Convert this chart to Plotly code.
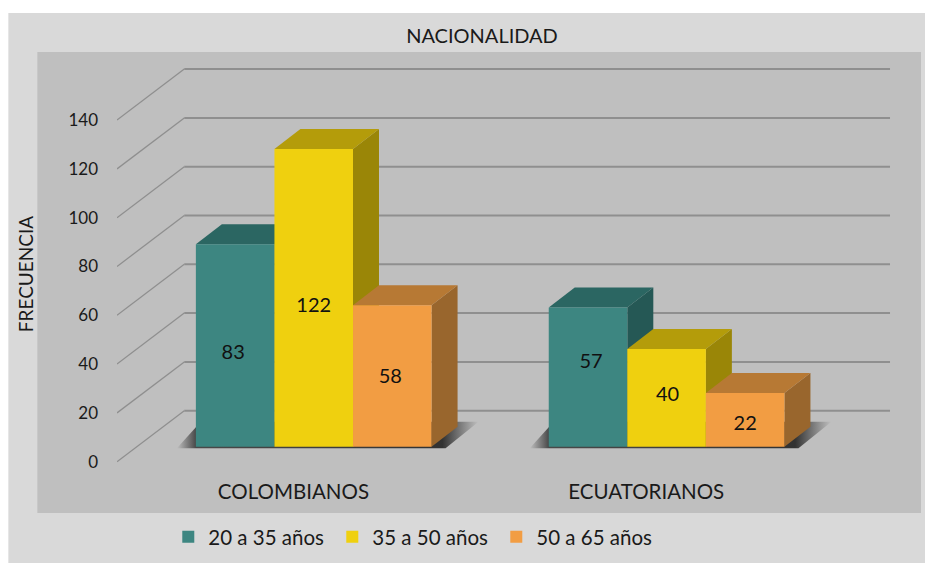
import plotly.graph_objects as go

# ---------- data ----------
categories = ["COLOMBIANOS", "ECUATORIANOS"]
series_names = ["20 a 35 años", "35 a 50 años", "50 a 65 años"]
values_20_35 = [83, 57]
values_35_50 = [122, 40]
values_50_65 = [58, 22]
y_ticks = [0, 20, 40, 60, 80, 100, 120, 140]

# ---------- style / projection constants ----------
W, H = 925, 563
FONT = "Lato"
TXT = "#1a1a1a"
FRONT = ["#3d8681", "#efd00f", "#f29d43"]
TOP = ["#2b6662", "#b49c0a", "#b77934"]
SIDE = ["#255855", "#9a8607", "#99662d"]
PLOT_L, PLOT_R, PLOT_T, PLOT_B = 116.7, 921.0, 52.0, 496.0
ZERO_PX = 461.7        # pixel row of value 0 on the front axis
PX_Y = 2.44            # pixels per value unit
PX_X = 353.0           # pixels per category
BAR_PX = 78.6
to_x = lambda px: px / PX_X
to_y = lambda px: px / PX_Y
WALL_DX, WALL_DY = to_x(67.3), to_y(51.0)      # front axis -> back wall
BASE_DX, BASE_DY = to_x(20.3), to_y(15.0)      # front axis -> bar base
DEPTH_DX, DEPTH_DY = to_x(26.0), to_y(20.0)    # depth of one bar
BAR_W = to_x(BAR_PX)
# hand placement of the value labels in the reference (pixels: right, up)
LABEL_NUDGE = [[(-2, -9), (3, 14)], [(0, -9), (1, 2)], [(-2, -2), (0, -5)]]

series = [values_20_35, values_35_50, values_50_65]
x_range = [0, (PLOT_R - PLOT_L) / PX_X]
y_range = [(ZERO_PX - PLOT_B) / PX_Y, (ZERO_PX - PLOT_T) / PX_Y]
fx = lambda px: (px - PLOT_L) / (PLOT_R - PLOT_L)
fy = lambda py: (PLOT_B - py) / (PLOT_B - PLOT_T)

fig = go.Figure()

# back-wall gridlines and their diagonal returns to the axis
diag_x, diag_y, wall_x, wall_y = [], [], [], []
for v in y_ticks:
    diag_x += [0, WALL_DX, None]
    diag_y += [v, v + WALL_DY, None]
    wall_x += [WALL_DX, 2 + WALL_DX, None]
    wall_y += [v + WALL_DY, v + WALL_DY, None]
fig.add_trace(go.Scatter(x=diag_x, y=diag_y, mode="lines", showlegend=False, hoverinfo="skip",
                         line=dict(color="#8f8f8f", width=1.3)))
fig.add_trace(go.Scatter(x=wall_x, y=wall_y, mode="lines", showlegend=False, hoverinfo="skip",
                         line=dict(color="#8f8f8f", width=2)))

# floor shadows
for c in range(len(categories)):
    left = c + 0.5 + BASE_DX - 1.5 * BAR_W
    right = left + 3 * BAR_W
    sx = [left - to_x(19), right + to_x(14), right + to_x(47), left + to_x(5), left - to_x(19)]
    sy = [BASE_DY - to_y(1.5), BASE_DY - to_y(1.5), BASE_DY + to_y(25), BASE_DY + to_y(25), BASE_DY - to_y(1.5)]
    fig.add_trace(go.Scatter(
        x=sx, y=sy, mode="lines", fill="toself", line=dict(width=0), showlegend=False, hoverinfo="skip",
        fillgradient=dict(type="horizontal",
                          colorscale=[[0, "rgba(60,60,60,0)"], [0.063, "rgba(60,60,60,0.9)"],
                                      [0.88, "rgba(50,50,50,1)"], [1, "rgba(60,60,60,0)"]])))

# top and side faces, derived from the values
for c in range(len(categories)):
    for s, vals in enumerate(series):
        x0 = c + 0.5 + BASE_DX - 1.5 * BAR_W + s * BAR_W
        x1 = x0 + BAR_W
        top = BASE_DY + vals[c]
        fig.add_trace(go.Scatter(
            x=[x1, x1 + DEPTH_DX, x1 + DEPTH_DX, x1, x1],
            y=[BASE_DY, BASE_DY + DEPTH_DY, top + DEPTH_DY, top, BASE_DY],
            mode="lines", fill="toself", fillcolor=SIDE[s], line=dict(width=0),
            showlegend=False, hoverinfo="skip"))
        fig.add_trace(go.Scatter(
            x=[x0, x1, x1 + DEPTH_DX, x0 + DEPTH_DX, x0],
            y=[top, top, top + DEPTH_DY, top + DEPTH_DY, top],
            mode="lines", fill="toself", fillcolor=TOP[s], line=dict(width=0),
            showlegend=False, hoverinfo="skip"))

# front faces: real bars on an overlay subplot, so they sit above the faces
for s, vals in enumerate(series):
    fig.add_trace(go.Bar(
        x=[c + 0.5 + BASE_DX + (s - 1) * BAR_W for c in range(len(categories))],
        y=vals, base=BASE_DY, width=BAR_W, name=series_names[s],
        marker=dict(color=FRONT[s], line=dict(width=0)),
        xaxis="x2", yaxis="y2"))

# value labels
for s, vals in enumerate(series):
    fig.add_trace(go.Scatter(
        x=[c + 0.5 + BASE_DX + (s - 1) * BAR_W + to_x(LABEL_NUDGE[s][c][0]) for c in range(len(categories))],
        y=[BASE_DY + v / 2 + to_y(LABEL_NUDGE[s][i][1]) for i, v in enumerate(vals)],
        mode="text", text=[str(v) for v in vals], textposition="middle center",
        textfont=dict(family=FONT, size=20, color="#111111"),
        showlegend=False, hoverinfo="skip", xaxis="x2", yaxis="y2"))

# background panels
shapes = [
    dict(type="rect", xref="paper", yref="paper", layer="below", line=dict(width=0), fillcolor="#d9d9d9",
         x0=fx(8), x1=fx(925), y0=fy(563), y1=fy(13)),
    dict(type="rect", xref="paper", yref="paper", layer="below", line=dict(width=0), fillcolor="#bfbfbf",
         x0=fx(37), x1=fx(921), y0=fy(513), y1=fy(52)),
]

fig.update_layout(
    width=W, height=H, autosize=False, paper_bgcolor="#ffffff", plot_bgcolor="rgba(0,0,0,0)",
    margin=dict(l=PLOT_L, r=W - PLOT_R, t=PLOT_T, b=H - PLOT_B, pad=0, autoexpand=False),
    font=dict(family=FONT, size=20, color=TXT),
    title=dict(text="NACIONALIDAD", x=482 / W, y=1 - 36 / H, xref="container", yref="container",
               xanchor="center", yanchor="middle", font=dict(family=FONT, size=20, color=TXT)),
    barmode="overlay", shapes=shapes,
    xaxis=dict(range=x_range, tickmode="array", tickvals=[0.5, 1.5], ticktext=categories, showgrid=False,
               zeroline=False, showline=False, ticks="", ticklabelstandoff=-19,
               tickfont=dict(family=FONT, size=20.5, color=TXT)),
    yaxis=dict(range=y_range, tickmode="array", tickvals=y_ticks, showgrid=False, zeroline=False, showline=False,
               ticks="", ticklabelstandoff=18, ticklabelshift=0, tickfont=dict(family=FONT, size=17, color=TXT),
               title=dict(text="FRECUENCIA", standoff=29, font=dict(family=FONT, size=19, color=TXT))),
    xaxis2=dict(overlaying="x", matches="x", visible=False),
    yaxis2=dict(overlaying="y", matches="y", visible=False),
    legend=dict(orientation="h", x=fx(168), xanchor="left", y=fy(537), yanchor="middle", entrywidth=119,
                bgcolor="rgba(0,0,0,0)", font=dict(family=FONT, size=20.5, color=TXT)),
)

fig.write_html("out.html", config={"displayModeBar": False}, post_script="document.body.style.margin='0';")
